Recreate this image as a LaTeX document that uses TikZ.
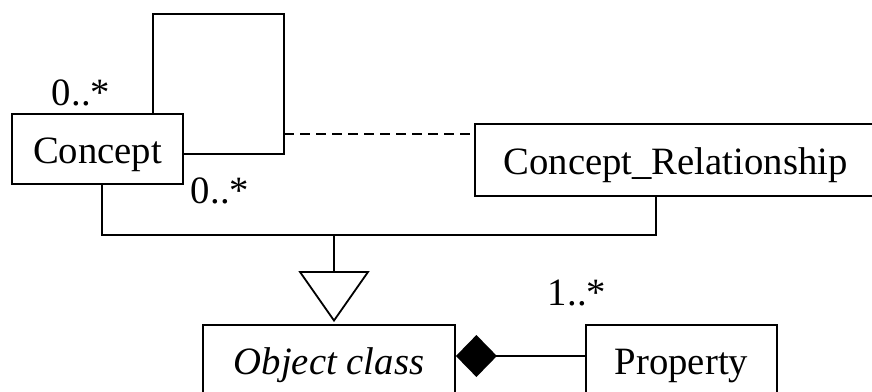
\documentclass[tikz,border=0pt]{standalone}
\usepackage{fontspec}
\setmainfont{Liberation Serif}
\usepackage {tikz}
\usetikzlibrary {positioning, arrows.meta}

\begin{document}
\begin{tikzpicture}[x=0.5pt, y=-0.5pt, on grid, line width=0.9pt,
		classbox/.style={draw=black, inner sep=0pt, minimum height=35pt, text height=17pt, text depth=3pt, font=\fontsize{19.35pt}{23pt}\selectfont},
		mult/.style={anchor=base, inner sep=0pt, font=\fontsize{19.35pt}{23pt}\selectfont}]
			\useasboundingbox (0,0) rectangle (872,391);
			\node [classbox, minimum width = 85.5pt] (CONCEPT) at (97.5,149) {Concept};
			\node [classbox, minimum width = 200.5pt, minimum height = 36pt] (CONREL) at (675.5,160) {Concept\_Relationship};
			\node [classbox, minimum width = 126pt] (OBJCLASS) at (329,360) {\itshape Object class};
			\node [classbox, minimum width = 95.5pt] (PROPERTY) [right = 176.25pt of OBJCLASS] {Property};
			\node [mult] (MULTA) at (81,105) {0..*};
			\node [mult] (MULTB) at (220,203) {0..*};
			\node [mult] (MULTC) at (577,305) {1..*};
			\coordinate (LOOPL) at (153,14);
			\coordinate (LOOPR) at (284,14);
			\coordinate (LOOPB) at (284,154);
			\coordinate (ASSOC) at (284,134);
			\coordinate (BUSL) at (102,235);
			\coordinate (BUSR) at (656,235);
			\coordinate (GEN) at (334,235);
			\coordinate (COMP) at (0,356);
			\draw (CONCEPT.north -| LOOPL) -- (LOOPL) -- (LOOPR) -- (LOOPB) -- (LOOPB -| CONCEPT.east);
			\draw [dash pattern=on 5pt off 3pt] (ASSOC) -- (ASSOC -| CONREL.west);
			\draw (CONCEPT.south -| BUSL) -- (BUSL) -- (BUSR) -- (BUSR |- CONREL.south);
			\draw [-{Triangle[open, length=25.5pt, width=35.5pt]}, shorten >=1pt] (GEN) -- (GEN |- OBJCLASS.north);
			\draw [{Diamond[length=20.5pt, width=21pt]}-] (OBJCLASS.east |- COMP) -- (PROPERTY.west |- COMP);
		\end{tikzpicture}
\end{document}
